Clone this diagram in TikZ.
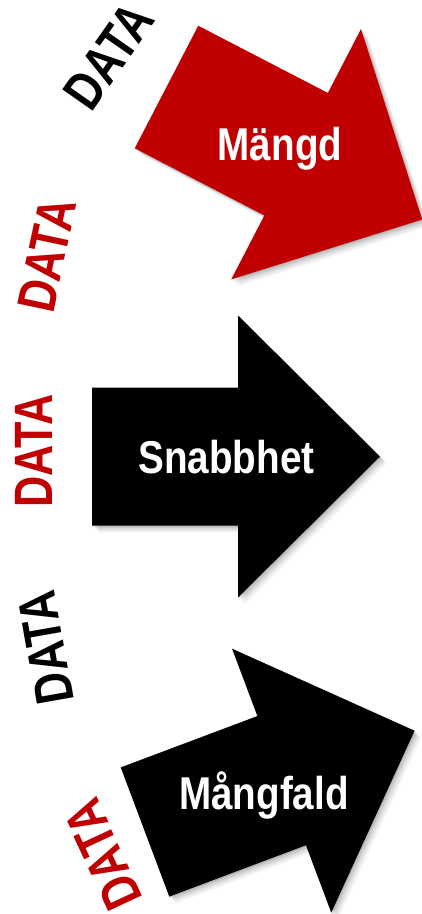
\documentclass[tikz,border=0pt]{standalone}
\usepackage{fontspec}
\setmainfont{Liberation Sans}
\usepackage{graphicx}
\definecolor{pptred}{HTML}{C00000}
\newcommand{\drawbigarrow}[4]{%
  \foreach \s/\o in {7/0.035,5.5/0.05,4/0.06,2.5/0.08,1/0.1}{%
    \fill[black,opacity=\o,shift={(#1+\s,#2+\s)},rotate=#3]
      (0,-69) -- (146,-69) -- (146,-141) -- (288,0) -- (146,141) -- (146,69) -- (0,69) -- cycle;}
  \fill[#4,shift={(#1,#2)},rotate=#3]
    (0,-69) -- (146,-69) -- (146,-141) -- (288,0) -- (146,141) -- (146,69) -- (0,69) -- cycle;}
\tikzset{
  arrowlabel/.style={font=\fontsize{46}{46}\selectfont\bfseries, text=white, inner sep=0pt, anchor=base},
  datalabel/.style={font=\fontsize{54}{54}\selectfont\bfseries, inner sep=0pt, anchor=center},
}
\begin{document}
\begin{tikzpicture}[x=1pt,y=-1pt]
\fill[white] (0,0) rectangle (421,914);
\useasboundingbox (0,0) rectangle (421,914);
% arrows
\drawbigarrow{166.5}{87}{-27.4}{pptred}
\drawbigarrow{92}{456.5}{0}{black}
\drawbigarrow{145}{832}{20.6}{black}
% arrow labels
\node[arrowlabel] (mangd) at (280,160) {\scalebox{0.84}[1]{Mängd}};
\node[arrowlabel] (snabbhet) at (226.5,473) {\scalebox{0.84}[1]{Snabbhet}};
\node[arrowlabel] (mangfald) at (264,809) {\scalebox{0.84}[1]{Mångfald}};
% DATA labels
\node[datalabel, text=black, rotate=55] (d1) at (109,56) {\scalebox{0.8}[1]{DATA}};
\node[datalabel, text=pptred, rotate=78] (d2) at (47,255) {\scalebox{0.8}[1]{DATA}};
\node[datalabel, text=pptred, rotate=90] (d3) at (33.5,451) {\scalebox{0.8}[1]{DATA}};
\node[datalabel, text=black, rotate=100] (d4) at (46,648) {\scalebox{0.8}[1]{DATA}};
\node[datalabel, text=pptred, rotate=115] (d5) at (103,855) {\scalebox{0.8}[1]{DATA}};
\end{tikzpicture}
\end{document}
